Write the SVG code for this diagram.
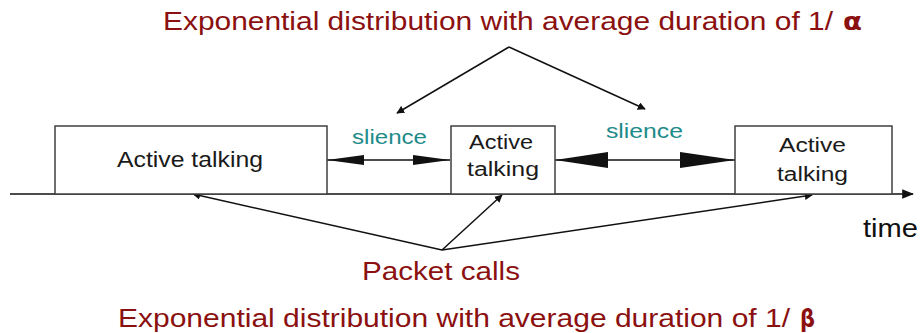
<svg xmlns="http://www.w3.org/2000/svg" width="920" height="333" viewBox="0 0 920 333">
<defs>
<style>
.box{fill:#fff;stroke:#404040;stroke-width:1.5}
.lbl{font-family:"Liberation Sans",Arial,sans-serif;font-size:20px;fill:#1a1a1a}
.lbl1{font-family:"Liberation Sans",Arial,sans-serif;font-size:22px;fill:#1a1a1a}
.sil{font-family:"Liberation Sans",Arial,sans-serif;font-size:20px;fill:#1e8b8b}
.red{font-family:"Liberation Sans",Arial,sans-serif;font-size:25px;fill:#8b1010}
.greek{font-family:"DejaVu Sans",sans-serif;font-size:24px;font-weight:bold;fill:#8b1010}
.ln{stroke:#111;stroke-width:1.5;fill:none}
.time{font-family:"Liberation Sans",Arial,sans-serif;font-size:26px;fill:#111}
</style>
<marker id="ah" viewBox="0 0 10 10" refX="9" refY="5" markerWidth="8" markerHeight="8" markerUnits="userSpaceOnUse" orient="auto">
<path d="M0,0 L10,5 L0,10 Z" fill="#111"/>
</marker>
<marker id="ah2" viewBox="0 0 10 10" refX="9" refY="5" markerWidth="12" markerHeight="12" markerUnits="userSpaceOnUse" orient="auto">
<path d="M0,1 L10,5 L0,9 Z" fill="#111"/>
</marker>
</defs>
<g id="connectors">
<line class="ln" x1="10" y1="194" x2="913" y2="194" marker-end="url(#ah2)"/>
<line class="ln" x1="327" y1="160" x2="450" y2="160"/>
<path d="M327,160 L364,155 L364,165 Z" fill="#111"/>
<path d="M450,160 L413,155 L413,165 Z" fill="#111"/>
<line class="ln" x1="555" y1="160" x2="735" y2="160"/>
<path d="M555,160 L608,152 L608,168 Z" fill="#111"/>
<path d="M735,160 L680,152 L680,168 Z" fill="#111"/>
<line class="ln" x1="509" y1="47" x2="397" y2="113" marker-end="url(#ah)"/>
<line class="ln" x1="509" y1="47" x2="645" y2="109" marker-end="url(#ah)"/>
<line class="ln" x1="442" y1="250" x2="193" y2="194" marker-end="url(#ah)"/>
<line class="ln" x1="442" y1="250" x2="502" y2="195" marker-end="url(#ah)"/>
<line class="ln" x1="442" y1="250" x2="812" y2="195" marker-end="url(#ah)"/>
</g>
<g id="box1">
<rect class="box" x="55" y="126" width="272" height="68"/>
<text class="lbl1" x="117" y="167" textLength="146" lengthAdjust="spacingAndGlyphs">Active talking</text>
</g>
<g id="box2">
<rect class="box" x="451" y="126" width="104" height="68"/>
<text class="lbl" x="469" y="149" textLength="64" lengthAdjust="spacingAndGlyphs">Active</text>
<text class="lbl" x="467" y="176" textLength="72" lengthAdjust="spacingAndGlyphs">talking</text>
</g>
<g id="box3">
<rect class="box" x="735" y="126" width="157" height="68"/>
<text class="lbl" x="779" y="152" textLength="67" lengthAdjust="spacingAndGlyphs">Active</text>
<text class="lbl" x="777" y="181" textLength="71" lengthAdjust="spacingAndGlyphs">talking</text>
</g>
<g id="silence1"><text class="sil" x="352" y="144" textLength="75" lengthAdjust="spacingAndGlyphs">slience</text></g>
<g id="silence2"><text class="sil" x="606" y="138" textLength="77" lengthAdjust="spacingAndGlyphs">slience</text></g>
<g id="time"><text class="time" x="863" y="237" textLength="55" lengthAdjust="spacingAndGlyphs">time</text></g>
<g id="packet"><text class="red" x="362" y="280" textLength="158" lengthAdjust="spacingAndGlyphs">Packet calls</text></g>
<g id="top-label">
<text class="red" x="163" y="30" textLength="670" lengthAdjust="spacingAndGlyphs">Exponential distribution with average duration of 1/</text>
<text class="greek" x="843" y="30" textLength="19" lengthAdjust="spacingAndGlyphs">α</text>
</g>
<g id="bottom-label">
<text class="red" x="118" y="327" textLength="672" lengthAdjust="spacingAndGlyphs">Exponential distribution with average duration of 1/</text>
<text class="greek" x="800" y="327" textLength="15" lengthAdjust="spacingAndGlyphs">β</text>
</g>
</svg>
